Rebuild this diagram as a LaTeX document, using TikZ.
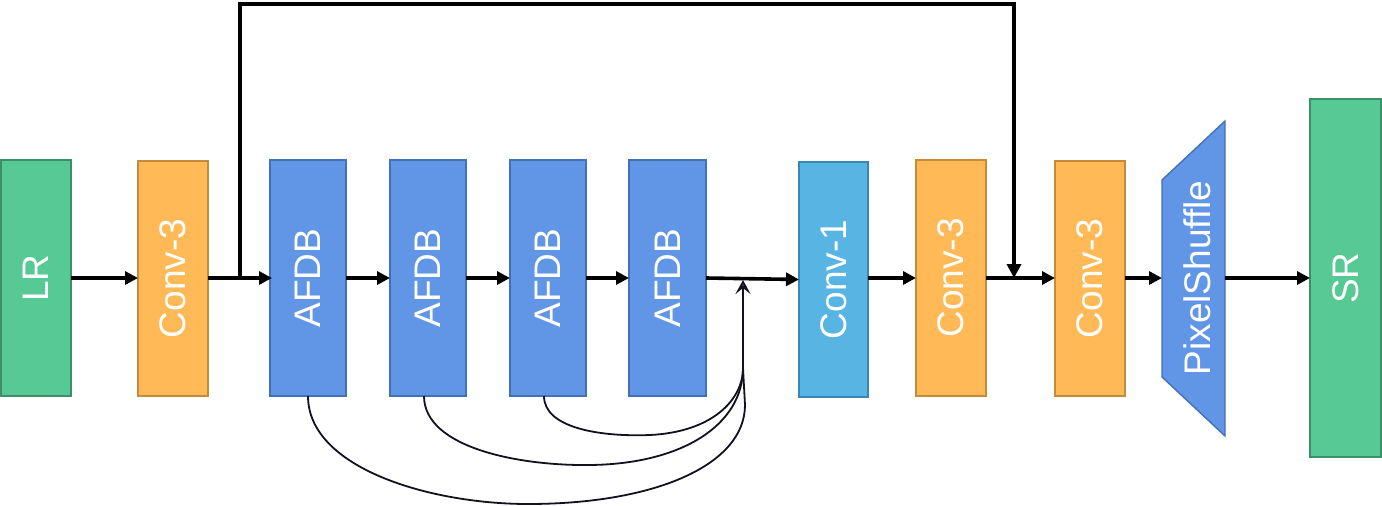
\documentclass[tikz,border=0pt]{standalone}
\usepackage{fontspec}
\setmainfont{Liberation Sans}
\usetikzlibrary{arrows.meta}
\definecolor{gfill}{HTML}{57C994}
\definecolor{gline}{HTML}{3E8E68}
\definecolor{ofill}{HTML}{FFB957}
\definecolor{oline}{HTML}{C38C3A}
\definecolor{bfill}{HTML}{6096E5}
\definecolor{bline}{HTML}{4470B5}
\definecolor{cfill}{HTML}{58B4E2}
\definecolor{cline}{HTML}{3A86B5}
\definecolor{curv}{HTML}{111122}
\tikzset{
  blk/.style={draw, line width=1.4pt, inner sep=0pt, outer sep=0pt, text=white,
    font=\fontsize{37}{40}\selectfont},
  gblk/.style={blk, fill=gfill, draw=gline},
  oblk/.style={blk, fill=ofill, draw=oline},
  bblk/.style={blk, fill=bfill, draw=bline},
  cblk/.style={blk, fill=cfill, draw=cline},
  flow/.style={line width=3.6pt, -{Triangle[length=13pt,width=13pt]}},
  skipline/.style={line width=4.6pt, -{Triangle[length=14pt,width=14pt]}},
  dense/.style={line width=1.8pt, draw=curv},
}
\begin{document}
\begin{tikzpicture}[x=1pt,y=-1pt]
\useasboundingbox (0,0) rectangle (1382,506);
\node[gblk, minimum width=70, minimum height=236] (lr) at (36,278) {\rotatebox{90}{LR}};
\node[oblk, minimum width=70, minimum height=235] (c3a) at (173,278.5) {\rotatebox{90}{Conv-3}};
\node[bblk, minimum width=76, minimum height=236] (a1) at (308,278) {\rotatebox{90}{AFDB}};
\node[bblk, minimum width=76, minimum height=236] (a2) at (428,278) {\rotatebox{90}{AFDB}};
\node[bblk, minimum width=76, minimum height=236] (a3) at (548,278) {\rotatebox{90}{AFDB}};
\node[bblk, minimum width=77, minimum height=236] (a4) at (667.5,278) {\rotatebox{90}{AFDB}};
\node[cblk, minimum width=69, minimum height=235] (c1) at (833.5,279.5) {\rotatebox{90}{Conv-1}};
\node[oblk, minimum width=70, minimum height=236] (c3b) at (951,278) {\rotatebox{90}{Conv-3}};
\node[oblk, minimum width=70, minimum height=235] (c3c) at (1090,278.5) {\rotatebox{90}{Conv-3}};
\draw[fill=bfill, draw=bline, line width=1.4pt] (1162,180) -- (1225,121) -- (1225,436) -- (1162,377) -- cycle;
\node[text=white, font=\fontsize{37}{40}\selectfont, inner sep=0pt] (ps) at (1197,278) {\rotatebox{90}{PixelShuffle}};
\coordinate (psin) at (1162,278);
\coordinate (psout) at (1225,278);
\node[gblk, minimum width=71, minimum height=358] (sr) at (1345.5,278) {\rotatebox{90}{SR}};

% main flow
\draw[flow] (lr.east) -- (c3a.west |- lr.east);
\draw[flow] (c3a.east |- a1.west) -- ([xshift=2pt]a1.west);
\draw[flow] (a1.east) -- (a2.west);
\draw[flow] (a2.east) -- (a3.west);
\draw[flow] (a3.east) -- (a4.west);
\draw[flow] (a4.east) -- (c1.west);
\draw[flow] (c1.east |- c3b.west) -- (c3b.west);
\draw[flow] (c3b.east) -- (c3c.west |- c3b.east);
\draw[flow] (c3c.east |- psin) -- (psin);
\draw[flow] (psout) -- (sr.west);

% long skip
\coordinate (ss) at (240,278);
\coordinate (st1) at (240,4);
\coordinate (st2) at (1014,4);
\coordinate (se) at (1014,278);
\draw[skipline] (ss) -- (st1) -- (st2) -- (se);

% dense connections
\coordinate (jb) at (743,368);
\coordinate (jt) at (743,280);
\draw[dense] ([xshift=-4pt]a3.south) .. controls (544,428) and (600,437) .. (650,435) .. controls (712,432) and (743,400) .. (jb);
\draw[dense] ([xshift=-4pt]a2.south) .. controls (424,448) and (520,466) .. (590,465) .. controls (682,464) and (743,425) .. (jb);
\draw[dense] (a1.south) .. controls (308,468) and (430,504) .. (528,504) .. controls (655,504) and (745,465) .. (745,405) -- (jb);
\draw[line width=2.2pt, draw=curv, -{Stealth[open,length=14pt,width=15pt,inset=6pt]}] (jb) -- (jt);
\end{tikzpicture}
\end{document}
